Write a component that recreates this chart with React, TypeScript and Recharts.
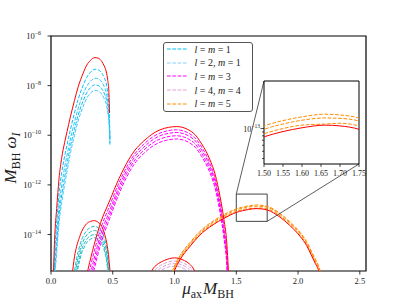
import { LineChart, Line, XAxis, YAxis, ReferenceArea, ReferenceLine } from 'recharts'

const SERIF = '"Liberation Serif", "DejaVu Serif", serif'

// axes
const X_TICKS = [0, 0.5, 1, 1.5, 2, 2.5]
const Y_TICKS = [-14, -12, -10, -8, -6]
const INSET_X_TICKS = [1.5, 1.55, 1.6, 1.65, 1.7, 1.75]
const INSET_Y_TICKS = [-13.398, -13.301, -13.222, -13.155, -13.097, -13.046, -13]

// l = m = 1 branch (upper), log10 values
const L1_X = [0.02, 0.03, 0.046, 0.065, 0.087, 0.11, 0.13, 0.155, 0.19, 0.22, 0.26, 0.29, 0.32, 0.355, 0.385, 0.41, 0.43, 0.448, 0.46, 0.468, 0.474, 0.477]
const L1_RED = [-15.5, -14.1, -12.95, -11.75, -10.9, -10.3, -9.85, -9.3, -8.6, -8.05, -7.5, -7.17, -6.98, -6.87, -6.9, -7.02, -7.2, -7.45, -7.8, -8.2, -9.1, null]
const L1_A = [-16.1, -14.7, -13.55, -12.35, -11.5, -10.85, -10.38, -9.82, -9.1, -8.55, -7.99, -7.66, -7.46, -7.34, -7.37, -7.49, -7.67, -7.93, -8.3, -8.75, -9.4, -10.4]
const L1_B = [-16.6, -15.2, -14.05, -12.85, -12.0, -11.3, -10.8, -10.2, -9.47, -8.92, -8.35, -8.02, -7.82, -7.7, -7.73, -7.85, -8.03, -8.3, -8.65, -9.05, -9.6, -10.3]
const L1_C = [-17.0, -15.6, -14.45, -13.25, -12.4, -11.7, -11.15, -10.5, -9.76, -9.19, -8.62, -8.28, -8.08, -7.97, -8.0, -8.12, -8.3, -8.55, -8.9, -9.25, -9.75, -10.2]
const L1_D = [-17.3, -15.9, -14.75, -13.55, -12.7, -12.0, -11.45, -10.78, -10.0, -9.42, -8.84, -8.5, -8.3, -8.19, -8.22, -8.34, -8.52, -8.77, -9.1, -9.45, -9.9, -10.1]

// l = 2, m = 1 branch (lower)
const L2_X = [0.17, 0.19, 0.208, 0.23, 0.249, 0.27, 0.289, 0.32, 0.351, 0.38, 0.41, 0.43, 0.451, 0.465, 0.478]
const L2_RED = [-15.7, -14.9, -14.47, -14.12, -13.87, -13.68, -13.56, -13.47, -13.44, -13.5, -13.67, -13.92, -14.34, -14.8, -15.5]
const L2_A = [-16.3, -15.5, -14.95, -14.5, -14.2, -13.98, -13.84, -13.72, -13.67, -13.72, -13.88, -14.12, -14.55, -15.1, -15.9]
const L2_B = [-16.6, -15.8, -15.2, -14.72, -14.4, -14.17, -14.02, -13.89, -13.84, -13.89, -14.05, -14.3, -14.75, -15.3, -16.1]
const L2_C = [-16.9, -16.1, -15.45, -14.92, -14.58, -14.35, -14.19, -14.05, -14.0, -14.05, -14.22, -14.47, -14.95, -15.5, -16.3]
const L2_D = [-17.1, -16.3, -15.65, -15.1, -14.74, -14.5, -14.33, -14.19, -14.13, -14.18, -14.36, -14.62, -15.1, -15.7, -16.5]

// l = m = 3
const L3_X = [0.28, 0.3, 0.35, 0.4, 0.474, 0.55, 0.61, 0.68, 0.747, 0.883, 1.018, 1.152, 1.22, 1.287, 1.33, 1.368, 1.4, 1.423, 1.436, 1.445]
const L3_RED = [-15.85, -15.4, -14.4, -13.55, -12.65, -11.75, -11.15, -10.6, -10.25, -9.78, -9.65, -9.91, -10.35, -10.99, -11.6, -12.46, -13.4, -14.34, -15.41, -16.2]
const L3_A = [-16.15, -15.7, -14.68, -13.8, -12.85, -11.92, -11.3, -10.74, -10.38, -9.91, -9.78, -10.04, -10.48, -11.14, -11.77, -12.68, -13.7, -14.79, -16.0, -16.8]
const L3_B = [-16.45, -16.0, -14.95, -14.03, -13.05, -12.08, -11.44, -10.86, -10.5, -10.02, -9.89, -10.15, -10.6, -11.26, -11.9, -12.82, -13.86, -14.94, -16.2, -17.0]
const L3_C = [-16.7, -16.25, -15.18, -14.23, -13.21, -12.22, -11.57, -10.99, -10.62, -10.15, -10.02, -10.28, -10.73, -11.39, -12.03, -12.96, -14.0, -15.09, -16.4, -17.2]
const L3_D = [-16.95, -16.5, -15.4, -14.43, -13.37, -12.37, -11.71, -11.12, -10.75, -10.28, -10.15, -10.41, -10.86, -11.52, -12.17, -13.1, -14.15, -15.24, -16.6, -17.4]

// l = 4, m = 4
const L4_X = [0.8, 0.83, 0.87, 0.92, 0.96, 1.0, 1.04, 1.08, 1.12, 1.15, 1.175]
const L4_RED = [-15.6, -15.35, -15.17, -15.04, -14.97, -14.94, -14.97, -15.05, -15.18, -15.35, -15.6]
const L4_A = [-15.8, -15.5, -15.3, -15.16, -15.09, -15.07, -15.09, -15.17, -15.3, -15.5, -15.8]
const L4_B = [-15.95, -15.63, -15.42, -15.26, -15.19, -15.17, -15.19, -15.27, -15.42, -15.63, -15.95]
const L4_C = [-16.1, -15.75, -15.53, -15.37, -15.3, -15.28, -15.3, -15.38, -15.53, -15.75, -16.1]

// l = m = 5
const L5_X = [0.98, 1.0, 1.045, 1.125, 1.2, 1.314, 1.4, 1.5, 1.55, 1.6, 1.66, 1.7, 1.75, 1.854, 1.93, 2.016, 2.07, 2.111, 2.14, 2.164, 2.18]
const L5_RED = [-15.7, -15.45, -15.01, -14.48, -14.05, -13.6, -13.35, -13.11, -13.04, -12.99, -12.955, -12.965, -13.01, -13.3, -13.62, -14.07, -14.45, -14.87, -15.17, -15.41, -15.65]
const L5_A = [-15.5, -15.27, -14.84, -14.32, -13.9, -13.45, -13.2, -12.965, -12.895, -12.845, -12.81, -12.82, -12.86, -13.15, -13.47, -13.91, -14.29, -14.7, -14.99, -15.23, -15.47]
const L5_B = [-15.58, -15.33, -14.9, -14.37, -13.95, -13.5, -13.25, -13.01, -12.94, -12.89, -12.86, -12.865, -12.9, -13.19, -13.51, -13.95, -14.33, -14.75, -15.04, -15.28, -15.52]
const L5_C = [-15.65, -15.4, -14.96, -14.43, -14.0, -13.56, -13.31, -13.07, -13.0, -12.955, -12.94, -12.93, -12.965, -13.25, -13.57, -14.02, -14.4, -14.82, -15.11, -15.36, -15.6]

const LEGEND = [
    { label: ['l', ' = ', 'm', ' = 1'], color: '#00bfff' },
    { label: ['l', ' = 2, ', 'm', ' = 1'], color: '#87cefa' },
    { label: ['l', ' = ', 'm', ' = 3'], color: '#ff00ff' },
    { label: ['l', ' = 4, ', 'm', ' = 4'], color: '#dda0dd' },
    { label: ['l', ' = ', 'm', ' = 5'], color: '#ff8c00' },
]

const X_DOM: [number, number] = [0, 2.55]
const Y_DOM: [number, number] = [-15.47, -6]
const ZOOM_X: [number, number] = [1.5, 1.75]
const ZOOM_Y: [number, number] = [-13.47, -12.37]

// pixel layout
const MAIN = { left: 51, top: 36, width: 315, height: 235 }
const INSET = { left: 264, top: 81, width: 95, height: 83 }

const pxToX = (px: number) => X_DOM[0] + ((px - MAIN.left) / MAIN.width) * (X_DOM[1] - X_DOM[0])
const pxToY = (py: number) => Y_DOM[1] - ((py - MAIN.top) / MAIN.height) * (Y_DOM[1] - Y_DOM[0])

const pts = (xs: number[], ys: (number | null)[]) => xs.map((x, i) => ({ x, y: ys[i] }))

const DASH = '3.7 1.6'

const dashed = (key: string, xs: number[], ys: (number | null)[], color: string) => (
    <Line key={key} data={pts(xs, ys)} dataKey="y" type="monotone" stroke={color} strokeWidth={1}
        strokeDasharray={DASH} dot={false} activeDot={false} isAnimationActive={false} />
)
const solid = (key: string, xs: number[], ys: (number | null)[]) => (
    <Line key={key} data={pts(xs, ys)} dataKey="y" type="monotone" stroke="#ff0000" strokeWidth={1}
        dot={false} activeDot={false} isAnimationActive={false} />
)

function Pow({ x, y, exp, size }: { x: number; y: number; exp: number; size: number }) {
    return (
        <text x={x} y={y} textAnchor="end" fontFamily={SERIF} fontSize={size} fill="#222">
            10<tspan dy={-size * 0.45} fontSize={size * 0.7}>{'\u2212' + Math.abs(exp)}</tspan>
        </text>
    )
}

function MainYTick(props: any) {
    const { x, y, payload } = props
    return (
        <g>
            <line x1={x - 3.5} x2={x} y1={y} y2={y} stroke="#000" strokeWidth={0.8} />
            <Pow x={x - 10} y={y + 3} exp={payload.value} size={8.5} />
        </g>
    )
}

function MainXTick(props: any) {
    const { x, y, payload } = props
    return (
        <g>
            <line x1={x} x2={x} y1={y} y2={y + 3.5} stroke="#000" strokeWidth={0.8} />
            <text x={x} y={y + 12.5} textAnchor="middle" fontFamily={SERIF} fontSize={8.5} fill="#222">
                {payload.value.toFixed(1)}
            </text>
        </g>
    )
}

function InsetYTick(props: any) {
    const { x, y, payload } = props
    const major = payload.value === -13
    return (
        <g>
            <line x1={x - (major ? 3.5 : 2)} x2={x} y1={y} y2={y} stroke="#000" strokeWidth={0.7} />
            {major && <Pow x={x - 4} y={y + 3} exp={13} size={8} />}
        </g>
    )
}

function InsetXTick(props: any) {
    const { x, y, payload } = props
    return (
        <g>
            <line x1={x} x2={x} y1={y} y2={y + 3} stroke="#000" strokeWidth={0.7} />
            <text x={x} y={y + 11.5} textAnchor="middle" fontFamily={SERIF} fontSize={8} fill="#222">
                {payload.value.toFixed(2)}
            </text>
        </g>
    )
}

export default function App() {
    const tl = { x: pxToX(INSET.left), y: pxToY(INSET.top) }
    const br = { x: pxToX(INSET.left + INSET.width), y: pxToY(INSET.top + INSET.height) }
    const insetW = 145
    const insetH = 108
    const insetLeft = INSET.left - 40
    const insetTop = INSET.top - 5

    return (
        <div style={{ position: 'absolute', left: 0, top: 0, width: 407, height: 305, background: '#fff' }}>
            <LineChart width={407} height={305} margin={{ top: MAIN.top, right: 407 - MAIN.left - MAIN.width, left: 0, bottom: 0 }}>
                <XAxis type="number" dataKey="x" domain={X_DOM} ticks={X_TICKS} allowDataOverflow
                    axisLine={false} tickLine={false} tickSize={0} tickMargin={0} height={305 - MAIN.top - MAIN.height}
                    tick={<MainXTick />} interval={0} />
                <YAxis type="number" domain={Y_DOM} ticks={Y_TICKS} allowDataOverflow
                    axisLine={false} tickLine={false} tickSize={0} tickMargin={0} width={MAIN.left}
                    tick={<MainYTick />} interval={0} />

                {dashed('l1a', L1_X, L1_A, '#00bfff')}
                {dashed('l1b', L1_X, L1_B, '#30c4f5')}
                {dashed('l1c', L1_X, L1_C, '#00bfff')}
                {dashed('l1d', L1_X, L1_D, '#45c8f5')}
                {dashed('l2a', L2_X, L2_A, '#1fbcc4')}
                {dashed('l2b', L2_X, L2_B, '#1fbcc4')}
                {dashed('l2c', L2_X, L2_C, '#1fbcc4')}
                {dashed('l2d', L2_X, L2_D, '#1fbcc4')}
                {dashed('l3a', L3_X, L3_A, '#ff00ff')}
                {dashed('l3b', L3_X, L3_B, '#ff00ff')}
                {dashed('l3c', L3_X, L3_C, '#ff00ff')}
                {dashed('l3d', L3_X, L3_D, '#ff00ff')}
                {dashed('l4a', L4_X, L4_A, '#dda0dd')}
                {dashed('l4b', L4_X, L4_B, '#dda0dd')}
                {dashed('l4c', L4_X, L4_C, '#dda0dd')}
                {dashed('l5a', L5_X, L5_A, '#ff8c00')}
                {dashed('l5b', L5_X, L5_B, '#ff8c00')}
                {dashed('l5c', L5_X, L5_C, '#ff8c00')}
                {solid('l1r', L1_X, L1_RED)}
                {solid('l2r', L2_X, L2_RED)}
                {solid('l3r', L3_X, L3_RED)}
                {solid('l4r', L4_X, L4_RED)}
                {solid('l5r', L5_X, L5_RED)}

                <ReferenceArea x1={ZOOM_X[0]} x2={ZOOM_X[1]} y1={ZOOM_Y[0]} y2={ZOOM_Y[1]}
                    fill="none" stroke="#444" strokeWidth={1} ifOverflow="visible" />
                <ReferenceLine segment={[{ x: ZOOM_X[0], y: ZOOM_Y[1] }, tl]} stroke="#333" strokeWidth={0.8} ifOverflow="visible" />
                <ReferenceLine segment={[{ x: ZOOM_X[1], y: ZOOM_Y[0] }, br]} stroke="#333" strokeWidth={0.8} ifOverflow="visible" />
                <ReferenceArea x1={X_DOM[0]} x2={X_DOM[1]} y1={Y_DOM[0]} y2={Y_DOM[1]}
                    fill="none" stroke="#000" strokeWidth={1.2} ifOverflow="visible" />
            </LineChart>

            {/* zoomed inset */}
            <div style={{ position: 'absolute', left: insetLeft, top: insetTop }}>
                <LineChart width={insetW} height={insetH}
                    margin={{ top: INSET.top - insetTop, right: insetW - 40 - INSET.width, left: 0, bottom: 0 }}>
                    <XAxis type="number" dataKey="x" domain={ZOOM_X} ticks={INSET_X_TICKS} allowDataOverflow
                        axisLine={false} tickLine={false} tickSize={0} tickMargin={0}
                        height={insetH - (INSET.top - insetTop) - INSET.height} tick={<InsetXTick />} interval={0} />
                    <YAxis type="number" domain={ZOOM_Y} ticks={INSET_Y_TICKS} allowDataOverflow
                        axisLine={false} tickLine={false} tickSize={0} tickMargin={0} width={40}
                        tick={<InsetYTick />} interval={0} />
                    <ReferenceArea x1={ZOOM_X[0]} x2={ZOOM_X[1]} y1={ZOOM_Y[0]} y2={ZOOM_Y[1]} fill="#fff" stroke="none" />
                    {dashed('i5a', L5_X, L5_A, '#ff8c00')}
                    {dashed('i5b', L5_X, L5_B, '#ff8c00')}
                    {dashed('i5c', L5_X, L5_C, '#ff8c00')}
                    {solid('i5r', L5_X, L5_RED)}
                    <ReferenceArea x1={ZOOM_X[0]} x2={ZOOM_X[1]} y1={ZOOM_Y[0]} y2={ZOOM_Y[1]}
                        fill="none" stroke="#000" strokeWidth={1} ifOverflow="visible" />
                </LineChart>
            </div>

            {/* legend */}
            <div style={{
                position: 'absolute', left: 163, top: 41.5, width: 90, height: 70, boxSizing: 'border-box',
                border: '1px solid #555', borderRadius: 3, background: 'rgba(255,255,255,0.85)',
                fontFamily: SERIF, fontSize: 10, color: '#222',
            }}>
                {LEGEND.map((item, i) => (
                    <div key={i} style={{ display: 'flex', alignItems: 'center', height: 13.6 }}>
                        <svg width={20} height={4} style={{ marginLeft: 2.5 }}>
                            <line x1={0} x2={20} y1={2} y2={2} stroke={item.color} strokeWidth={1} strokeDasharray={DASH} />
                        </svg>
                        <span style={{ marginLeft: 8, whiteSpace: 'pre' }}>
                            <i>{item.label[0]}</i>{item.label[1]}<i>{item.label[2]}</i>{item.label[3]}
                        </span>
                    </div>
                ))}
            </div>

            {/* axis titles */}
            <svg width={407} height={305} style={{ position: 'absolute', left: 0, top: 0, pointerEvents: 'none' }}>
                <text x={208} y={294} textAnchor="middle" fontFamily={SERIF} fontSize={17} fill="#222">
                    <tspan fontStyle="italic">μ</tspan>
                    <tspan dy={3.5} fontSize={12}>ax</tspan>
                    <tspan dy={-3.5} dx={1} fontStyle="italic">M</tspan>
                    <tspan dy={3.5} fontSize={12}>BH</tspan>
                </text>
                <text transform="translate(16,158) rotate(-90)" textAnchor="middle" fontFamily={SERIF} fontSize={17} fill="#222">
                    <tspan fontStyle="italic">M</tspan>
                    <tspan dy={3.5} fontSize={12}>BH</tspan>
                    <tspan dy={-3.5} dx={4} fontStyle="italic">ω</tspan>
                    <tspan dy={3.5} fontSize={12} fontStyle="italic">I</tspan>
                </text>
            </svg>
        </div>
    )
}
